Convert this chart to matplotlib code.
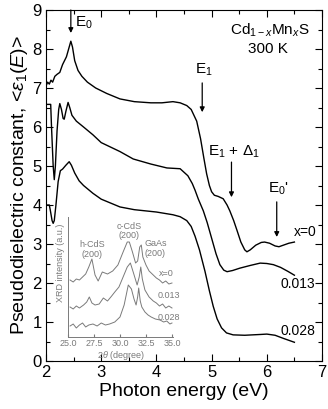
import numpy as np
import matplotlib
matplotlib.use("Agg")
import matplotlib.pyplot as plt
from matplotlib.ticker import MultipleLocator

plt.rcParams['font.family'] = ['Liberation Sans', 'DejaVu Sans']
plt.rcParams['mathtext.fontset'] = 'custom'
plt.rcParams['mathtext.rm'] = 'Liberation Sans'
plt.rcParams['mathtext.it'] = 'Liberation Sans:italic'

# main spectra: photon energy (eV) vs <eps1>
e_x0 = [2.00, 2.03, 2.06, 2.09, 2.12, 2.16, 2.20, 2.25, 2.30, 2.37, 2.42, 2.45, 2.48, 2.52, 2.58,
        2.65, 2.75, 2.90, 3.10, 3.34, 3.60, 3.90, 4.10, 4.30, 4.43, 4.55, 4.63, 4.73, 4.80, 4.86,
        4.91, 4.96, 5.00, 5.05, 5.12, 5.21, 5.28, 5.33, 5.40, 5.46, 5.53, 5.60, 5.64, 5.70, 5.80,
        5.90, 5.96, 6.05, 6.15, 6.22, 6.30, 6.40, 6.50]
eps_x0 = [7.05, 7.15, 7.10, 7.20, 7.15, 7.30, 7.35, 7.40, 7.60, 7.80, 8.05, 8.20, 8.05, 7.70, 7.45,
          7.30, 7.15, 7.00, 6.86, 6.72, 6.65, 6.62, 6.62, 6.65, 6.62, 6.55, 6.45, 6.15, 5.70, 5.20,
          4.80, 4.50, 4.34, 4.25, 4.22, 4.16, 4.00, 3.85, 3.60, 3.35, 3.05, 2.85, 2.80, 2.85, 2.97,
          3.04, 3.05, 3.02, 2.95, 2.93, 2.97, 3.02, 3.05]

e_x013 = [2.00, 2.085, 2.10, 2.13, 2.15, 2.17, 2.20, 2.23, 2.25, 2.28, 2.31, 2.33, 2.36, 2.40, 2.43,
          2.47, 2.55, 2.68, 2.85, 3.00, 3.34, 3.58, 3.90, 4.19, 4.43, 4.57, 4.65, 4.70, 4.76, 4.85,
          4.92, 5.00, 5.08, 5.15, 5.22, 5.28, 5.38, 5.51, 5.70, 5.88, 6.00, 6.12, 6.25, 6.38, 6.50]
eps_x013 = [6.58, 6.58, 6.00, 5.00, 4.65, 5.00, 5.90, 6.45, 6.60, 6.45, 6.22, 6.20, 6.40, 6.63, 6.50,
            6.30, 6.15, 6.00, 5.80, 5.60, 5.37, 5.18, 5.05, 4.95, 4.93, 4.75, 4.55, 4.38, 4.15, 3.85,
            3.55, 3.15, 2.75, 2.47, 2.33, 2.29, 2.32, 2.38, 2.45, 2.51, 2.50, 2.47, 2.40, 2.30, 2.20]

e_x028 = [2.00, 2.06, 2.08, 2.11, 2.13, 2.15, 2.18, 2.22, 2.26, 2.30, 2.36, 2.42, 2.46, 2.52, 2.60,
          2.68, 2.85, 3.00, 3.34, 3.60, 4.00, 4.30, 4.43, 4.55, 4.63, 4.70, 4.78, 4.88, 4.96, 5.03,
          5.10, 5.18, 5.27, 5.39, 5.60, 5.88, 6.00, 6.15, 6.30, 6.50]
eps_x028 = [4.00, 4.00, 3.85, 3.60, 3.53, 3.60, 4.00, 4.60, 4.88, 4.92, 5.02, 5.11, 5.02, 4.82, 4.62,
            4.50, 4.30, 4.15, 3.95, 3.88, 3.82, 3.75, 3.70, 3.60, 3.45, 3.20, 2.85, 2.30, 1.80, 1.40,
            1.08, 0.85, 0.72, 0.67, 0.66, 0.68, 0.69, 0.66, 0.58, 0.48]

# inset XRD: 2theta (deg) vs intensity (a.u.)
tt_x0 = [25.2, 25.5, 25.8, 26.1, 26.4, 26.7, 27.0, 27.3, 27.6, 27.9, 28.3, 28.8, 29.3, 29.8, 30.3,
         30.7, 30.9, 31.2, 31.5, 31.7, 31.9, 32.05, 32.2, 32.5, 32.8, 33.2, 33.5, 33.8, 34.1, 34.4,
         34.7, 35.0]
xrd_x0 = [57, 55, 58, 57, 60, 63, 70, 78, 62, 56, 65, 63, 66, 72, 85,
          95, 95, 85, 74, 76, 90, 92, 80, 72, 66, 62, 59, 57, 54, 56, 53, 54]

tt_x013 = [25.2, 25.5, 25.8, 26.1, 26.5, 26.8, 27.05, 27.3, 27.6, 28.0, 28.4, 28.8, 29.2, 29.5,
           29.9, 30.3, 30.7, 31.0, 31.3, 31.65, 31.85, 32.0, 32.15, 32.4, 32.8, 33.2, 33.5, 33.8,
           34.1, 34.4, 34.7, 35.0]
xrd_x013 = [30, 28, 31, 29, 32, 35, 40, 34, 32, 33, 39, 36, 41, 45,
            50, 60, 70, 74, 64, 52, 60, 70, 58, 47, 40, 36, 34, 31, 33, 29, 31, 29]

tt_x028 = [25.2, 25.5, 25.8, 26.1, 26.4, 26.7, 27.0, 27.4, 27.8, 28.2, 28.6, 29.0, 29.5, 30.0,
           30.4, 30.8, 31.1, 31.35, 31.55, 31.7, 31.8, 31.95, 32.1, 32.4, 32.7, 33.0, 33.4, 33.85,
           34.2, 34.5, 34.8, 35.0]
xrd_x028 = [11, 13, 9, 12, 14, 10, 12, 13, 11, 14, 12, 13, 15, 20,
            32, 52, 48, 38, 32, 40, 49, 36, 30, 25, 22, 20, 18, 17, 15, 16, 13, 14]

fig = plt.figure(figsize=(3.28, 4.09), dpi=100)
ax = fig.add_axes([46 / 328, 1 - 361 / 409, 276 / 328, 351 / 409])

for e, eps in [(e_x0, eps_x0), (e_x013, eps_x013), (e_x028, eps_x028)]:
    ax.plot(e, eps, color='k', lw=1.0)

ax.set_xlim(2, 7)
ax.set_ylim(0, 9)
ax.xaxis.set_major_locator(MultipleLocator(1))
ax.xaxis.set_minor_locator(MultipleLocator(0.5))
ax.yaxis.set_major_locator(MultipleLocator(1))
ax.yaxis.set_minor_locator(MultipleLocator(0.5))
ax.tick_params(which='both', direction='in', top=True, right=True, labelsize=12, width=0.8)
ax.tick_params(which='major', length=5, pad=3)
ax.tick_params(which='minor', length=3)
for s in ax.spines.values():
    s.set_linewidth(0.8)
ax.set_xlabel('Photon energy (eV)', fontsize=14, labelpad=2)
ax.set_ylabel(r'Pseudodielectric constant, <$\varepsilon_1$($\it{E}$)>', fontsize=14, labelpad=2)

# transition arrows
arrows = [(2.45, 9.0, 8.41), (4.83, 7.13, 6.38), (5.36, 5.10, 4.20), (6.18, 4.08, 3.18)]
for xa, y0, y1 in arrows:
    ax.annotate('', xy=(xa, y1), xytext=(xa, y0),
                arrowprops=dict(arrowstyle='-|>', color='k', lw=0.9, mutation_scale=7,
                                shrinkA=0, shrinkB=0))
ax.text(2.53, 8.67, r'E$_0$', fontsize=11, va='center', ha='left')
ax.text(4.70, 7.46, r'E$_1$', fontsize=11, va='center', ha='left')
ax.text(4.93, 5.36, r'E$_1$ + $\Delta_1$', fontsize=11, va='center', ha='left')
ax.text(6.02, 4.41, r"E$_0$'", fontsize=11, va='center', ha='left')
ax.text(6.06, 8.49, r'Cd$_{1-x}$Mn$_x$S', fontsize=11, va='center', ha='center')
ax.text(6.02, 8.01, '300 K', fontsize=11, va='center', ha='center')

ax.text(6.69, 3.30, 'x=0', fontsize=10, va='center', ha='center')
ax.text(6.57, 1.97, '0.013', fontsize=10, va='center', ha='center')
ax.text(6.57, 0.77, '0.028', fontsize=10, va='center', ha='center')

# inset
gray = '#7a7a7a'
axi = fig.add_axes([68 / 328, 1 - 337 / 409, 105 / 328, 120 / 409])
axi.patch.set_alpha(0)
for tt, xrd in [(tt_x0, xrd_x0), (tt_x013, xrd_x013), (tt_x028, xrd_x028)]:
    axi.plot(tt, xrd, color=gray, lw=0.7)
axi.set_xlim(25, 35.1)
axi.set_ylim(0, 120)
axi.spines['top'].set_visible(False)
axi.spines['right'].set_visible(False)
axi.spines['left'].set_color(gray)
axi.spines['bottom'].set_color(gray)
axi.spines['left'].set_linewidth(0.7)
axi.spines['bottom'].set_linewidth(0.7)
axi.set_yticks([])
axi.set_xticks([25, 27.5, 30, 32.5, 35])
axi.set_xticklabels(['25.0', '27.5', '30.0', '32.5', '35.0'])
axi.tick_params(axis='x', direction='in', length=2, color=gray, labelcolor=gray,
                labelsize=6.5, pad=1.5)
axi.set_xlabel(r'2$\theta$ (degree)', fontsize=6.5, color=gray, labelpad=0.5)
axi.set_ylabel('XRD intensity (a.u.)', fontsize=6.5, color=gray)
axi.yaxis.set_label_coords(-0.03, 0.62)
axi.text(27.3, 87.5, 'h-CdS\n(200)', fontsize=6.5, color=gray, ha='center', va='center',
         linespacing=1.1)
axi.text(30.87, 106, 'c-CdS\n(200)', fontsize=6.5, color=gray, ha='center', va='center',
         linespacing=1.1)
axi.text(33.4, 88.5, 'GaAs\n(200)', fontsize=6.5, color=gray, ha='center', va='center',
         linespacing=1.1)
axi.text(34.5, 64, 'x=0', fontsize=6.5, color=gray, ha='center', va='center')
axi.text(34.7, 42, '0.013', fontsize=6.5, color=gray, ha='center', va='center')
axi.text(34.7, 19, '0.028', fontsize=6.5, color=gray, ha='center', va='center')

fig.savefig('out.png', dpi=100)
